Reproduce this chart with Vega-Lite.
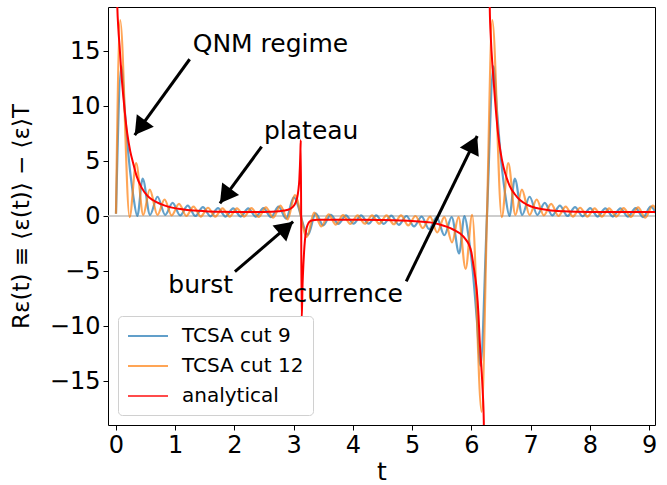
{
  "$schema": "https://vega.github.io/schema/vega-lite/v6.json",
  "width": 547,
  "height": 418,
  "autosize": {"type": "none"},
  "padding": {"left": 108, "top": 7, "right": 12, "bottom": 60},
  "background": "white",
  "config": {
    "font": "DejaVu Sans",
    "view": {"stroke": "black", "strokeWidth": 1},
    "axis": {
      "domain": false, "grid": false, "ticks": true, "tickColor": "black", "tickSize": 5, "tickWidth": 1,
      "labelFont": "DejaVu Sans", "labelFontSize": 24, "labelColor": "black", "labelPadding": 3,
      "titleFont": "DejaVu Sans", "titleFontSize": 25, "titleColor": "black", "titleFontWeight": "normal"
    }
  },
  "datasets": {
    "c9": [
      {"t":0,"v":0.2},{"t":0.09,"v":13.6},{"t":0.15,"v":9.5},{"t":0.22,"v":5.0},{"t":0.29,"v":1.9},{"t":0.36,"v":0.0},{"t":0.45,"v":3.4},{"t":0.575,"v":0.1},{"t":0.70,"v":1.75},{"t":0.83,"v":0.1},{"t":0.956,"v":1.2},{"t":1.083,"v":0.05},{"t":1.211,"v":0.95},{"t":1.339,"v":0.0},{"t":1.467,"v":0.8},{"t":1.595,"v":-0.03},{"t":1.722,"v":0.72},{"t":1.85,"v":-0.05},{"t":1.978,"v":0.7},{"t":2.105,"v":-0.05},{"t":2.233,"v":0.7},{"t":2.36,"v":-0.06},{"t":2.489,"v":0.72},{"t":2.617,"v":-0.1},{"t":2.744,"v":0.85},{"t":2.872,"v":-0.25},{"t":3.0,"v":1.7},
      {"t":3.243,"v":-1.7},{"t":3.371,"v":0.25},{"t":3.499,"v":-0.85},{"t":3.626,"v":0.1},{"t":3.754,"v":-0.72},{"t":3.883,"v":0.06},{"t":4.01,"v":-0.7},{"t":4.138,"v":0.05},{"t":4.265,"v":-0.7},{"t":4.393,"v":0.05},{"t":4.521,"v":-0.72},{"t":4.648,"v":0.03},{"t":4.776,"v":-0.8},{"t":4.904,"v":0.0},{"t":5.032,"v":-0.95},{"t":5.16,"v":-0.05},{"t":5.287,"v":-1.2},{"t":5.413,"v":-0.1},{"t":5.543,"v":-1.75},{"t":5.668,"v":-0.1},{"t":5.793,"v":-3.4},{"t":5.883,"v":0.0},{"t":5.953,"v":-1.9},{"t":6.023,"v":-5.0},{"t":6.093,"v":-9.5},{"t":6.153,"v":-13.6},{"t":6.263,"v":0},
      {"t":6.373,"v":13.6},{"t":6.433,"v":9.5},{"t":6.503,"v":5.0},{"t":6.573,"v":1.9},{"t":6.643,"v":0.0},{"t":6.733,"v":3.4},{"t":6.858,"v":0.1},{"t":6.983,"v":1.75},{"t":7.113,"v":0.1},{"t":7.239,"v":1.2},{"t":7.366,"v":0.05},{"t":7.494,"v":0.95},{"t":7.622,"v":0.0},{"t":7.75,"v":0.8},{"t":7.878,"v":-0.03},{"t":8.005,"v":0.72},{"t":8.133,"v":-0.05},{"t":8.261,"v":0.7},{"t":8.388,"v":-0.05},{"t":8.516,"v":0.7},{"t":8.643,"v":-0.06},{"t":8.772,"v":0.72},{"t":8.9,"v":-0.1},{"t":9.027,"v":0.85},{"t":9.155,"v":-0.25}
    ],
    "c12": [
      {"t":0,"v":0.2},{"t":0.07,"v":17.8},{"t":0.23,"v":-0.1},{"t":0.34,"v":4.8},{"t":0.46,"v":0.1},{"t":0.57,"v":2.4},{"t":0.70,"v":0.1},{"t":0.82,"v":1.5},{"t":0.94,"v":0.05},{"t":1.064,"v":1.1},{"t":1.187,"v":0.0},{"t":1.309,"v":0.85},{"t":1.431,"v":-0.05},{"t":1.553,"v":0.75},{"t":1.676,"v":-0.05},{"t":1.798,"v":0.7},{"t":1.92,"v":-0.05},{"t":2.042,"v":0.7},{"t":2.165,"v":-0.05},{"t":2.287,"v":0.72},{"t":2.409,"v":-0.08},{"t":2.531,"v":0.78},{"t":2.654,"v":-0.15},{"t":2.776,"v":0.95},{"t":2.898,"v":-0.3},{"t":3.02,"v":1.9},
      {"t":3.223,"v":-1.9},{"t":3.345,"v":0.3},{"t":3.467,"v":-0.95},{"t":3.589,"v":0.15},{"t":3.712,"v":-0.78},{"t":3.834,"v":0.08},{"t":3.956,"v":-0.72},{"t":4.078,"v":0.05},{"t":4.201,"v":-0.7},{"t":4.323,"v":0.05},{"t":4.445,"v":-0.7},{"t":4.567,"v":0.05},{"t":4.69,"v":-0.75},{"t":4.812,"v":0.05},{"t":4.934,"v":-0.85},{"t":5.056,"v":0.0},{"t":5.179,"v":-1.1},{"t":5.303,"v":-0.05},{"t":5.423,"v":-1.5},{"t":5.543,"v":-0.1},{"t":5.673,"v":-2.4},{"t":5.783,"v":-0.1},{"t":5.903,"v":-4.8},{"t":6.013,"v":0.1},{"t":6.173,"v":-17.8},{"t":6.263,"v":0},
      {"t":6.353,"v":17.8},{"t":6.513,"v":-0.1},{"t":6.623,"v":4.8},{"t":6.743,"v":0.1},{"t":6.853,"v":2.4},{"t":6.983,"v":0.1},{"t":7.103,"v":1.5},{"t":7.223,"v":0.05},{"t":7.347,"v":1.1},{"t":7.47,"v":0.0},{"t":7.592,"v":0.85},{"t":7.714,"v":-0.05},{"t":7.836,"v":0.75},{"t":7.959,"v":-0.05},{"t":8.081,"v":0.7},{"t":8.203,"v":-0.05},{"t":8.325,"v":0.7},{"t":8.448,"v":-0.05},{"t":8.57,"v":0.72},{"t":8.692,"v":-0.08},{"t":8.814,"v":0.78},{"t":8.937,"v":-0.15},{"t":9.059,"v":0.95},{"t":9.181,"v":-0.3}
    ],
    "an": [
      {"t":0.008,"v":45,"seg":1},{"t":0.02,"v":19.5,"seg":1},{"t":0.04,"v":17,"seg":1},{"t":0.06,"v":15.5,"seg":1},{"t":0.09,"v":13,"seg":1},{"t":0.13,"v":10.5,"seg":1},{"t":0.19,"v":7.5,"seg":1},{"t":0.24,"v":5.9,"seg":1},{"t":0.29,"v":4.8,"seg":1},{"t":0.35,"v":3.6,"seg":1},{"t":0.43,"v":2.6,"seg":1},{"t":0.52,"v":1.9,"seg":1},{"t":0.62,"v":1.45,"seg":1},{"t":0.75,"v":1.1,"seg":1},{"t":0.88,"v":0.85,"seg":1},{"t":1.05,"v":0.66,"seg":1},{"t":1.2,"v":0.55,"seg":1},{"t":1.5,"v":0.44,"seg":1},{"t":1.8,"v":0.39,"seg":1},{"t":2.1,"v":0.37,"seg":1},{"t":2.4,"v":0.37,"seg":1},{"t":2.6,"v":0.39,"seg":1},{"t":2.75,"v":0.43,"seg":1},{"t":2.85,"v":0.5,"seg":1},{"t":2.93,"v":0.62,"seg":1},{"t":2.99,"v":0.85,"seg":1},{"t":3.03,"v":1.2,"seg":1},{"t":3.06,"v":1.7,"seg":1},{"t":3.08,"v":2.4,"seg":1},{"t":3.095,"v":3.3,"seg":1},{"t":3.105,"v":4.5,"seg":1},{"t":3.113,"v":5.8,"seg":1},{"t":3.12,"v":6.9,"seg":1},
      {"t":3.134,"v":-9.5,"seg":1},{"t":3.15,"v":-6.2,"seg":1},{"t":3.165,"v":-4.3,"seg":1},{"t":3.175,"v":-3.3,"seg":1},{"t":3.19,"v":-2.2,"seg":1},{"t":3.21,"v":-1.3,"seg":1},{"t":3.24,"v":-0.75,"seg":1},{"t":3.27,"v":-0.5,"seg":1},{"t":3.32,"v":-0.38,"seg":1},{"t":3.4,"v":-0.34,"seg":1},{"t":3.7,"v":-0.33,"seg":1},{"t":4.0,"v":-0.34,"seg":1},{"t":4.46,"v":-0.36,"seg":1},{"t":4.8,"v":-0.4,"seg":1},{"t":5.05,"v":-0.47,"seg":1},{"t":5.3,"v":-0.58,"seg":1},{"t":5.45,"v":-0.75,"seg":1},{"t":5.58,"v":-0.97,"seg":1},{"t":5.7,"v":-1.25,"seg":1},{"t":5.81,"v":-1.6,"seg":1},{"t":5.9,"v":-2.1,"seg":1},{"t":5.95,"v":-2.5,"seg":1},{"t":6.0,"v":-3.3,"seg":1},{"t":6.03,"v":-4.3,"seg":1},{"t":6.06,"v":-5.4,"seg":1},{"t":6.09,"v":-6.7,"seg":1},{"t":6.12,"v":-9.0,"seg":1},{"t":6.14,"v":-11.3,"seg":1},{"t":6.165,"v":-13.5,"seg":1},{"t":6.19,"v":-15.8,"seg":1},{"t":6.21,"v":-18.8,"seg":1},{"t":6.225,"v":-40,"seg":1},
      {"t":6.295,"v":45,"seg":2},{"t":6.31,"v":19,"seg":2},{"t":6.33,"v":16,"seg":2},{"t":6.36,"v":13.4,"seg":2},{"t":6.40,"v":10.5,"seg":2},{"t":6.45,"v":7.5,"seg":2},{"t":6.49,"v":5.9,"seg":2},{"t":6.54,"v":4.5,"seg":2},{"t":6.6,"v":3.4,"seg":2},{"t":6.65,"v":2.7,"seg":2},{"t":6.73,"v":2.0,"seg":2},{"t":6.82,"v":1.45,"seg":2},{"t":6.95,"v":1.0,"seg":2},{"t":7.1,"v":0.72,"seg":2},{"t":7.3,"v":0.53,"seg":2},{"t":7.55,"v":0.43,"seg":2},{"t":8.0,"v":0.37,"seg":2},{"t":8.5,"v":0.36,"seg":2},{"t":9.2,"v":0.36,"seg":2}
    ],
    "arrows": [
      {"t":1.244,"v":14.25,"t2":0.316,"v2":7.36},
      {"t":2.459,"v":6.3,"t2":1.755,"v2":1.15},
      {"t":2.008,"v":-5.06,"t2":2.99,"v2":-0.52},
      {"t":4.9,"v":-5.94,"t2":6.098,"v2":7.27}
    ],
    "notes": [
      {"t":1.295,"v":14.94,"label":"QNM regime"},
      {"t":2.498,"v":6.97,"label":"plateau"},
      {"t":0.883,"v":-6.97,"label":"burst"},
      {"t":2.571,"v":-7.79,"label":"recurrence"}
    ]
  },
  "layer": [
    {
      "data": {"values": [{}]},
      "mark": {"type": "rule", "color": "#bdbdbd", "strokeWidth": 1.5},
      "encoding": {"y": {"datum": 0, "type": "quantitative"}}
    },
    {
      "data": {"name": "c9"},
      "mark": {"type": "line", "interpolate": "monotone", "strokeWidth": 2.2, "opacity": 0.7, "clip": true},
      "encoding": {
        "x": {"field": "t", "type": "quantitative", "title": "t",
              "scale": {"domain": [-0.135, 9.1], "nice": false, "zero": false},
              "axis": {"values": [0,1,2,3,4,5,6,7,8,9], "format": "d", "labelFlush": false, "titleY": 46, "titleBaseline": "middle"}},
        "y": {"field": "v", "type": "quantitative", "title": "Rε(t) ≡ ⟨ε(t)⟩ − ⟨ε⟩T",
              "scale": {"domain": [-19, 19], "nice": false, "zero": false},
              "axis": {"values": [-15,-10,-5,0,5,10,15], "format": "d", "titleX": -87, "titleY": 209, "titleBaseline": "middle", "titleAlign": "center", "titleAngle": -90, "titleFontSize": 23}},
        "color": {"datum": "TCSA cut 9", "type": "nominal",
                  "scale": {"domain": ["TCSA cut 9", "TCSA cut 12", "analytical"], "range": ["#1f77b4", "#ff7f0e", "#ff0000"]},
                  "legend": {"title": null, "orient": "bottom-left", "offset": 10, "padding": 9, "rowPadding": 9,
                             "fillColor": "white", "strokeColor": "#d0d0d0", "cornerRadius": 4,
                             "symbolType": "M-1,0H3", "symbolSize": 400, "symbolStrokeWidth": 2,
                             "labelFontSize": 20, "labelFont": "DejaVu Sans", "labelColor": "black", "labelOffset": 33,
                             "encode": {"symbols": {"update": {"opacity": {"signal": "datum.value === 'analytical' ? 1 : 0.7"}}}}}}
      }
    },
    {
      "data": {"name": "c12"},
      "mark": {"type": "line", "interpolate": "monotone", "strokeWidth": 2.2, "opacity": 0.7, "clip": true},
      "encoding": {
        "x": {"field": "t", "type": "quantitative"},
        "y": {"field": "v", "type": "quantitative"},
        "color": {"datum": "TCSA cut 12", "type": "nominal"}
      }
    },
    {
      "data": {"name": "an"},
      "mark": {"type": "line", "interpolate": "monotone", "strokeWidth": 2, "clip": true},
      "encoding": {
        "x": {"field": "t", "type": "quantitative"},
        "y": {"field": "v", "type": "quantitative"},
        "detail": {"field": "seg", "type": "nominal"},
        "color": {"datum": "analytical", "type": "nominal"}
      }
    },
    {
      "data": {"name": "arrows"},
      "mark": {"type": "rule", "color": "black", "strokeWidth": 3},
      "encoding": {
        "x": {"field": "t", "type": "quantitative"},
        "y": {"field": "v", "type": "quantitative"},
        "x2": {"field": "t2"},
        "y2": {"field": "v2"}
      }
    },
    {
      "data": {"values": [{"t": 0.316, "v": 7.36}]},
      "mark": {"type": "point", "shape": "M0,0L-1.17,2L1.17,2Z", "size": 324, "filled": true, "color": "black", "opacity": 1, "strokeWidth": 0, "angle": 216},
      "encoding": {"x": {"field": "t", "type": "quantitative"}, "y": {"field": "v", "type": "quantitative"}}
    },
    {
      "data": {"values": [{"t": 1.755, "v": 1.15}]},
      "mark": {"type": "point", "shape": "M0,0L-1.17,2L1.17,2Z", "size": 324, "filled": true, "color": "black", "opacity": 1, "strokeWidth": 0, "angle": 216.4},
      "encoding": {"x": {"field": "t", "type": "quantitative"}, "y": {"field": "v", "type": "quantitative"}}
    },
    {
      "data": {"values": [{"t": 2.99, "v": -0.52}]},
      "mark": {"type": "point", "shape": "M0,0L-1.17,2L1.17,2Z", "size": 324, "filled": true, "color": "black", "opacity": 1, "strokeWidth": 0, "angle": 49.4},
      "encoding": {"x": {"field": "t", "type": "quantitative"}, "y": {"field": "v", "type": "quantitative"}}
    },
    {
      "data": {"values": [{"t": 6.098, "v": 7.27}]},
      "mark": {"type": "point", "shape": "M0,0L-1.17,2L1.17,2Z", "size": 324, "filled": true, "color": "black", "opacity": 1, "strokeWidth": 0, "angle": 26},
      "encoding": {"x": {"field": "t", "type": "quantitative"}, "y": {"field": "v", "type": "quantitative"}}
    },
    {
      "data": {"name": "notes"},
      "mark": {"type": "text", "align": "left", "baseline": "alphabetic", "fontSize": 25, "font": "DejaVu Sans", "color": "black"},
      "encoding": {
        "x": {"field": "t", "type": "quantitative"},
        "y": {"field": "v", "type": "quantitative"},
        "text": {"field": "label"}
      }
    }
  ]
}
